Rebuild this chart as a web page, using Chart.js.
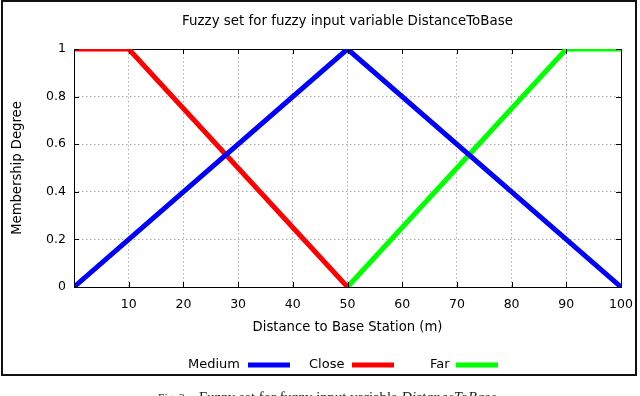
<!DOCTYPE html>
<html><head><meta charset="utf-8">
<script src="https://cdn.jsdelivr.net/npm/chart.js@4/dist/chart.umd.min.js"></script>
<style>html,body{margin:0;padding:0;background:#fff}#wrap{width:640px;height:396px;position:relative}</style>
</head><body><div id="wrap"><canvas id="c" width="640" height="396"></canvas></div>
<script>
const titleText = "Fuzzy set for fuzzy input variable DistanceToBase";
const xTitle = "Distance to Base Station (m)";
const yTitle = "Membership Degree";
const captionLabel = "Fig. 3.";
const captionText = "Fuzzy set for fuzzy input variable ";
const captionItalic = "DistanceToBase";
const seriesNames = ["Medium", "Close", "Far"];
const seriesColors = ["#0000ff", "#ff0000", "#00ff00"];
const mediumX = [0, 50, 100];
const mediumY = [0, 1, 0];
const closeX = [0, 10, 50];
const closeY = [1, 1, 0];
const farX = [50, 90, 100];
const farY = [0, 1, 1];
const xTicks = [0, 10, 20, 30, 40, 50, 60, 70, 80, 90, 100];
const yTicks = [0, 0.2, 0.4, 0.6, 0.8, 1];

const FONT = "'DejaVu Sans', sans-serif";
const SERIF = '"Liberation Serif", serif';
function pts(xs, ys) { return xs.map((x, i) => ({x: x, y: ys[i]})); }
const datasets = [[mediumX, mediumY], [closeX, closeY], [farX, farY]].map((d, i) => ({
  label: seriesNames[i], data: pts(d[0], d[1]), borderColor: seriesColors[i], backgroundColor: seriesColors[i],
  borderWidth: 5, pointRadius: 0, tension: 0, fill: false
}));

const deco = {
  id: 'deco',
  afterDraw(chart) {
    const ctx = chart.ctx, a = chart.chartArea, xs = chart.scales.x, ys = chart.scales.y;
    ctx.save();
    // inward ticks
    ctx.strokeStyle = '#000'; ctx.lineWidth = 1;
    xTicks.forEach(v => {
      const px = Math.round(xs.getPixelForValue(v)) + 0.5;
      ctx.beginPath(); ctx.moveTo(px, a.bottom); ctx.lineTo(px, a.bottom - 5);
      ctx.moveTo(px, a.top); ctx.lineTo(px, a.top + 5); ctx.stroke();
    });
    yTicks.forEach(v => {
      const py = Math.round(ys.getPixelForValue(v)) + 0.5;
      ctx.beginPath(); ctx.moveTo(a.left, py); ctx.lineTo(a.left + 5, py);
      ctx.moveTo(a.right, py); ctx.lineTo(a.right - 5, py); ctx.stroke();
    });
    // title
    ctx.fillStyle = '#000';
    ctx.font = '13.4px ' + FONT; ctx.textAlign = 'center'; ctx.textBaseline = 'middle';
    ctx.fillText(titleText, (a.left + a.right) / 2, 22);
    // axis titles
    ctx.font = '13.2px ' + FONT;
    ctx.fillText(xTitle, (a.left + a.right) / 2, 328);
    ctx.save(); ctx.translate(18, (a.top + a.bottom) / 2); ctx.rotate(-Math.PI / 2);
    ctx.fillText(yTitle, 0, 0); ctx.restore();
    // legend
    ctx.font = '13px ' + FONT;
    const legX = [[188, 248], [309, 352], [430, 456]];
    ctx.textAlign = 'left';
    chart.data.datasets.forEach((ds, i) => {
      ctx.fillStyle = '#000'; ctx.fillText(ds.label, legX[i][0], 365);
      ctx.strokeStyle = ds.borderColor; ctx.lineWidth = 5;
      ctx.beginPath(); ctx.moveTo(legX[i][1], 365); ctx.lineTo(legX[i][1] + 42, 365); ctx.stroke();
    });
    // outer frame
    ctx.strokeStyle = '#111'; ctx.lineWidth = 2;
    ctx.strokeRect(2, 1, 634, 374);
    // caption (cut off at the bottom edge, as in the reference)
    ctx.fillStyle = '#222'; ctx.textBaseline = 'alphabetic';
    ctx.font = '11.5px ' + SERIF;
    ctx.fillText(captionLabel, 158, 402);
    ctx.font = '10px ' + SERIF;
    const m1 = ctx.measureText(captionText).width;
    ctx.font = 'italic 10px ' + SERIF;
    const m2 = ctx.measureText(captionItalic).width;
    const sz = 10 * 298 / (m1 + m2);
    ctx.font = sz + 'px ' + SERIF;
    ctx.fillText(captionText, 199, 402);
    const w1 = ctx.measureText(captionText).width;
    ctx.font = 'italic ' + sz + 'px ' + SERIF;
    ctx.fillText(captionItalic, 199 + w1, 402);
    ctx.restore();
  },
  beforeDatasetsDraw(chart) {
    const ctx = chart.ctx, a = chart.chartArea;
    ctx.save(); ctx.strokeStyle = '#000'; ctx.lineWidth = 1;
    ctx.strokeRect(Math.round(a.left) + 0.5, Math.round(a.top) + 0.5, Math.round(a.right - a.left), Math.round(a.bottom - a.top));
    ctx.restore();
  }
};

new Chart(document.getElementById('c'), {
  type: 'line',
  data: { datasets: datasets },
  options: {
    responsive: false, animation: false, devicePixelRatio: 1,
    layout: { padding: { left: 0, top: 49, right: 19, bottom: 79 } },
    plugins: { legend: { display: false }, title: { display: false }, tooltip: { enabled: false } },
    scales: {
      x: {
        type: 'linear', min: 0, max: 100,
        afterBuildTicks: s => { s.ticks = xTicks.map(v => ({value: v})); },
        afterFit: s => { s.height = 30; s.paddingLeft = 0; s.paddingRight = 0; },
        ticks: { color: '#000', font: { family: FONT, size: 12.5 }, padding: 10, maxRotation: 0, autoSkip: false,
          callback: v => v === 0 ? '' : String(v) },
        grid: { color: '#aaa', lineWidth: 1, tickLength: 0, drawTicks: false },
        border: { display: false, dash: [1.5, 2.5] }
      },
      y: {
        type: 'linear', min: 0, max: 1,
        afterBuildTicks: s => { s.ticks = yTicks.map(v => ({value: v})); },
        afterFit: s => { s.width = 74; s.paddingTop = 0; s.paddingBottom = 0; },
        ticks: { color: '#000', font: { family: FONT, size: 12.5 }, padding: 8, callback: v => String(+v.toFixed(1)) },
        grid: { color: '#aaa', lineWidth: 1, tickLength: 0, drawTicks: false },
        border: { display: false, dash: [1.5, 2.5] }
      }
    }
  },
  plugins: [deco]
});
</script></body></html>
